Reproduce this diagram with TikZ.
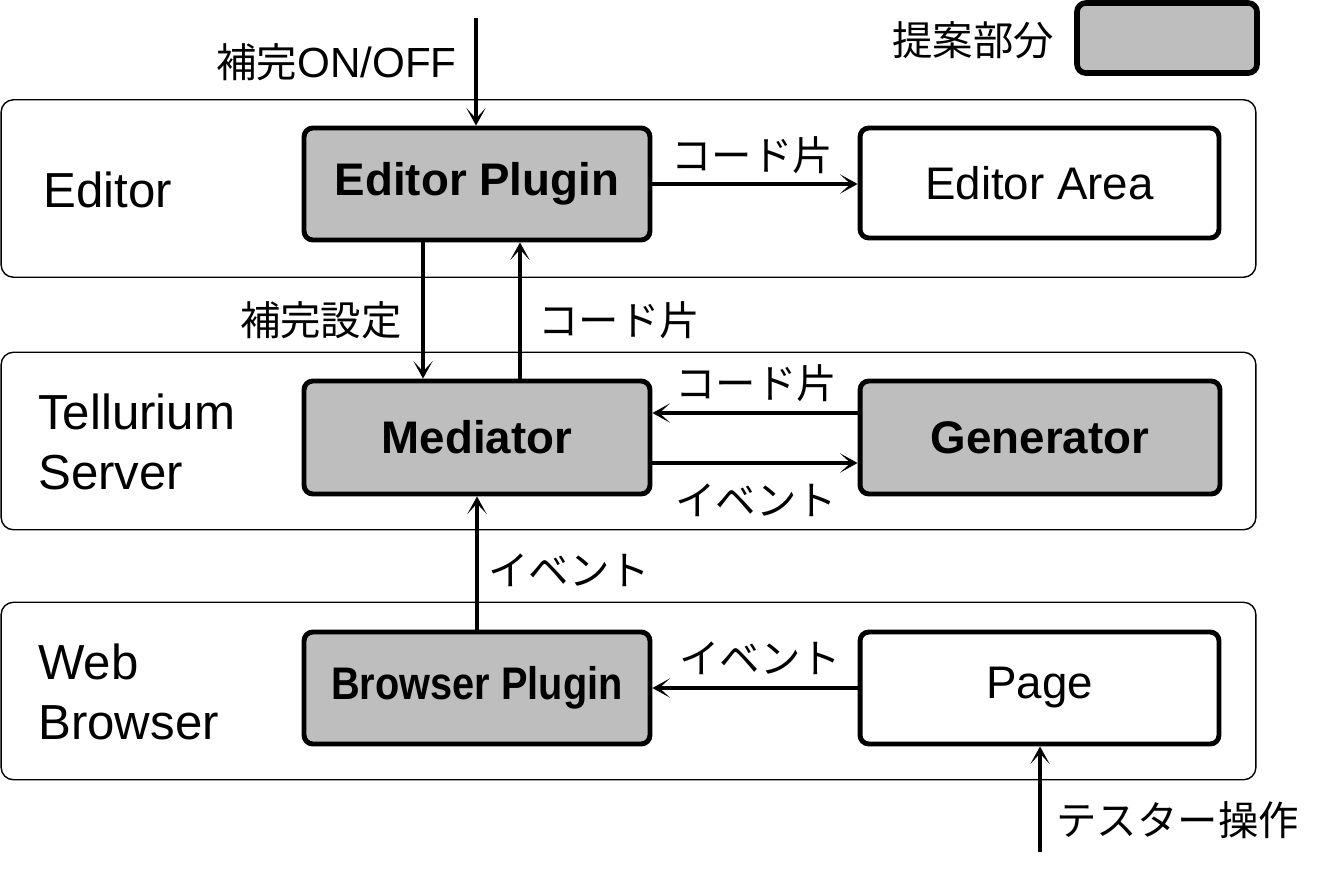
\documentclass[tikz,border=0pt]{standalone}
\usepackage{fontspec}
\setmainfont{Liberation Sans}
\newfontfamily\jp{Noto Sans CJK JP}
\usetikzlibrary{arrows.meta}
\definecolor{prop}{HTML}{BEBEBE}
\begin{document}
\begin{tikzpicture}[x=0.02cm,y=-0.02cm,
  lane/.style={draw, line width=0.8pt, rounded corners=7pt, minimum width=25.1cm, minimum height=3.55cm},
  box/.style={draw, line width=2.8pt, rounded corners=5pt, minimum height=2.24cm, font=\fontsize{26}{30}\selectfont},
  propbox/.style={box, fill=prop, font=\fontsize{26}{30}\selectfont\bfseries},
  arr/.style={line width=2pt, -{Stealth[length=10pt, width=11pt, inset=6pt]}},
  jlab/.style={inner sep=0pt, font=\jp\fontsize{23}{26}\selectfont},
  lanelab/.style={inner sep=0pt, anchor=west, align=left, font=\fontsize{28}{34}\selectfont}
]
\useasboundingbox (0,0) rectangle (1331,870);

% lanes
\node[lane] (L1) at (628.5,188.5) {};
\node[lane] (L2) at (628.5,441) {};
\node[lane] (L3) at (628.5,691) {};
\node[lanelab] (t1) at (43,190) {Editor};
\node[lanelab] (t2) at (38,442) {Tellurium\\Server};
\node[lanelab] (t3) at (38,692) {Web\\Browser};

% boxes
\node[propbox, minimum width=6.92cm] (EP) at (477,184) {Editor Plugin};
\node[box, minimum width=7.18cm, minimum height=2.2cm] (EA) at (1039.5,183) {Editor Area};
\node[propbox, minimum width=6.92cm, minimum height=2.26cm] (Med) at (477,437.5) {Mediator};
\node[propbox, minimum width=7.2cm, minimum height=2.26cm] (Gen) at (1040,437.5) {Generator};
\node[propbox, minimum width=6.92cm] (BP) at (477,688) {\scalebox{0.87}[1]{Browser Plugin}};
\node[box, minimum width=7.18cm] (Pg) at (1039.5,688) {Page};

% legend
\node[box, fill=prop, line width=3.2pt, minimum width=3.6cm, minimum height=1.4cm] (Leg) at (1167,38) {};
\node[jlab] (legt) at (973,40) {提案部分};

% external endpoints
\coordinate (in1) at (476,18);
\coordinate (in2) at (1040,852);

% connectors
\draw[arr] (in1) -- (EP.north -| in1);
\draw[arr] (EP.east) -- (EP.east -| EA.west);
\draw[arr] ([xshift=-1.08cm]EP.south) -- ([xshift=-1.08cm]Med.north);
\draw[arr] ([xshift=0.86cm]Med.north) -- ([xshift=0.86cm]EP.south);
\draw[arr] ([yshift=0.49cm]Gen.west) -- ([yshift=0.49cm]Med.east);
\draw[arr] ([yshift=-0.51cm]Med.east) -- ([yshift=-0.51cm]Gen.west);
\draw[arr] (BP.north) -- (Med.south);
\draw[arr] (Pg.west) -- (BP.east);
\draw[arr] (in2) -- (Pg.south -| in2);

% labels
\node[jlab, anchor=east] (l1) at (457,62) {補完{\fontspec{Liberation Sans}\fontsize{24}{26}\selectfont ON/OFF}};
\node[jlab] (l2) at (752,155) {コード片};
\node[jlab, anchor=east] (l3) at (402,320) {補完設定};
\node[jlab, anchor=west] (l4) at (538,320) {コード片};
\node[jlab] (l5) at (756,383) {コード片};
\node[jlab] (l6) at (756,500) {イベント};
\node[jlab, anchor=west] (l7) at (488,570) {イベント};
\node[jlab] (l8) at (760,658) {イベント};
\node[jlab, anchor=west] (l9) at (1056,820) {テスター操作};
\end{tikzpicture}
\end{document}
